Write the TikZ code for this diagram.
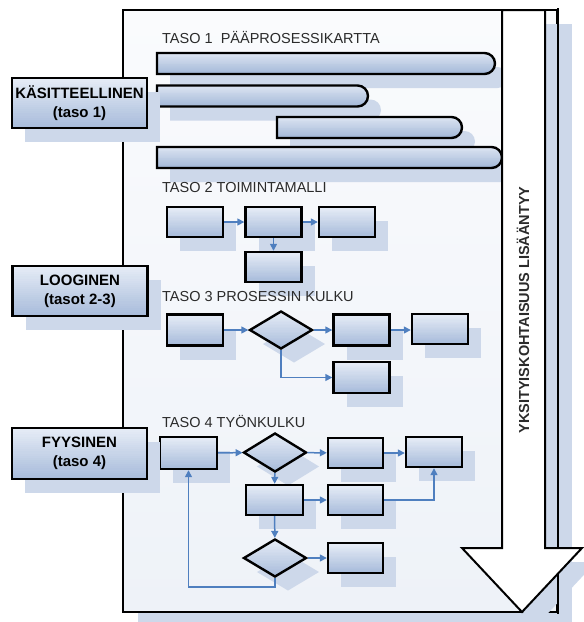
\documentclass[tikz,border=0pt]{standalone}
\usepackage{fontspec}
\setmainfont{Liberation Sans}
\usetikzlibrary{shapes.geometric,shapes.misc,shadows,arrows.meta,calc}

\definecolor{shcol}{HTML}{CDD8EA}
\definecolor{flow}{HTML}{4F7FBF}
\definecolor{boxtop}{HTML}{E6ECF6}
\definecolor{boxbot}{HTML}{A8BCDB}
\definecolor{bartop}{HTML}{DDE5F2}
\definecolor{barbot}{HTML}{A3B8D8}
\definecolor{pagetop}{HTML}{FAFBFD}
\definecolor{pagebot}{HTML}{EEF2F8}
\definecolor{txt}{HTML}{2B2B2B}

\tikzset{
  % top-to-bottom gradient built from thin horizontal bands
  bands/.style 2 args={fill=#2, path picture={
    \foreach \i in {0,...,23}{
      \pgfmathsetmacro\p{100-\i*100/23}
      \fill[#1!\p!#2]
        ($(path picture bounding box.north west)!\i/24!(path picture bounding box.south west)$)
        rectangle
        ($(path picture bounding box.north east)!{(\i+1.5)/24}!(path picture bounding box.south east)$);
    }}},
  softshadow/.style={drop shadow={shadow xshift=13pt,shadow yshift=-14pt,fill=shcol,opacity=1,draw=none}},
  box/.style={rectangle, draw=black, line width=2.4pt, minimum width=56pt,
    minimum height=30pt, inner sep=0pt, bands={boxtop}{boxbot}, softshadow},
  decision/.style={diamond, draw=black, line width=2.4pt, minimum width=63pt,
    minimum height=38pt, aspect=1.66, inner sep=0pt, bands={boxtop}{boxbot},
    softshadow},
  bar/.style={rounded rectangle, rounded rectangle west arc=none, draw=black,
    line width=2.4pt, minimum height=21pt, inner sep=0pt,
    bands={bartop}{barbot}, softshadow},
  level/.style={rectangle, draw=black, line width=2.4pt, minimum width=135pt,
    minimum height=50pt, inner sep=0pt, align=center, bands={boxtop}{boxbot},
    softshadow, font=\fontsize{15}{19}\selectfont\bfseries},
  heading/.style={anchor=west, inner sep=0pt, text=txt,
    font=\fontsize{14.5}{17}\selectfont},
  flowline/.style={draw=flow, line width=1.5pt, -{Triangle[length=7pt,width=7pt]}},
}

\begin{document}
\begin{tikzpicture}[x=1pt,y=-1pt]
\useasboundingbox (0,0) rectangle (584,622);

% sheet
\node[rectangle, draw=black, line width=2.4pt, minimum width=434pt,
  minimum height=602pt, top color=pagetop, bottom color=pagebot,
  drop shadow={shadow xshift=15pt,shadow yshift=-14pt,fill=shcol,opacity=1,draw=none}]
  (page) at (340,311) {};

% level 1: main process map
\node[heading] (h1) at (162,37) {TASO 1\ \ PÄÄPROSESSIKARTTA};
\node[bar, minimum width=338pt] (b1) at (326,63.5) {};
\node[bar, minimum width=211pt] (b2) at (262.5,96) {};
\node[bar, minimum width=185pt] (b3) at (369.5,127.5) {};
\node[bar, minimum width=345pt] (b4) at (329.5,157.5) {};

% detail arrow: shadow, sheet edge over the shadow, then the arrow itself
\begin{scope}[shift={(14,14)}]
  \fill[shcol] (502,10) -- (545,10) -- (545,548) -- (582,548) -- (522,612)
    -- (462,548) -- (502,548) -- cycle;
\end{scope}
\draw[line width=2.4pt, line cap=rect] (page.north east) -- (page.south east);
\draw[line width=2pt, fill=white, line join=miter] (502,10) -- (545,10) -- (545,548)
  -- (582,548) -- (522,612) -- (462,548) -- (502,548) -- cycle;
\node[rotate=90, inner sep=0pt, font=\fontsize{14.5}{17}\selectfont\bfseries, text=txt]
  (detail) at (523,310) {YKSITYISKOHTAISUUS LISÄÄNTYY};

% level 2: operating model
\node[heading] (h2) at (162,188) {TASO 2 TOIMINTAMALLI};
\node[box] (t2a) at (195,222) {};
\node[box] (t2b) at (273.5,222) {};
\node[box] (t2c) at (347,222) {};
\node[box] (t2d) at (273.5,267) {};
\draw[flowline] (t2a) -- (t2b);
\draw[flowline] (t2b) -- (t2c);
\draw[flowline] (t2b) -- (t2d);

% level 3: process flow
\node[heading] (h3) at (162,297) {TASO 3 PROSESSIN KULKU};
\node[box, minimum height=31pt] (t3a) at (195,330) {};
\node[decision] (t3d) at (281,330) {};
\node[box, minimum height=31pt] (t3b) at (361.5,330) {};
\node[box] (t3c) at (440,329) {};
\node[box, minimum height=31pt] (t3e) at (361.5,377.5) {};
\draw[flowline] (t3a) -- (t3d);
\draw[flowline] (t3d) -- (t3b);
\draw[flowline] (t3b.east) -- (t3b.east -| t3c.west);
\draw[flowline] (t3d.south) |- (t3e.west);

% level 4: workflow
\node[heading] (h4) at (162,421) {TASO 4 TYÖNKULKU};
\node[box, minimum width=57pt, minimum height=32pt] (t4a) at (188.5,453) {};
\node[decision, minimum height=39pt] (t4d1) at (275,452.5) {};
\node[box, minimum width=55pt] (t4b) at (355.5,453) {};
\node[box] (t4c) at (434,452) {};
\node[box, minimum width=57pt] (t4e) at (274.5,500) {};
\node[box, minimum width=55pt] (t4f) at (355.5,500) {};
\node[decision] (t4d2) at (275,558) {};
\node[box, minimum width=55pt] (t4g) at (355.5,558) {};
\coordinate (loop) at (275,587);
\draw[flowline] (t4a) -- (t4d1);
\draw[flowline] (t4d1) -- (t4b);
\draw[flowline] (t4b.east) -- (t4b.east -| t4c.west);
\draw[flowline] (t4d1) -- (t4e);
\draw[flowline] (t4e) -- (t4f);
\draw[flowline] (t4f.east) -| (t4c.south);
\draw[flowline] (t4e) -- (t4d2);
\draw[flowline] (t4d2) -- (t4g);
\draw[flowline] (t4d2.south) -- (loop) -| (t4a.south);

% abstraction levels
\node[level] (lk) at (79.5,103) {KÄSITTEELLINEN\\(taso 1)};
\node[level] (ll) at (80,291) {LOOGINEN\\(tasot 2-3)};
\node[level, minimum height=51pt] (lf) at (79.5,453.5) {FYYSINEN\\(taso 4)};
\end{tikzpicture}
\end{document}
